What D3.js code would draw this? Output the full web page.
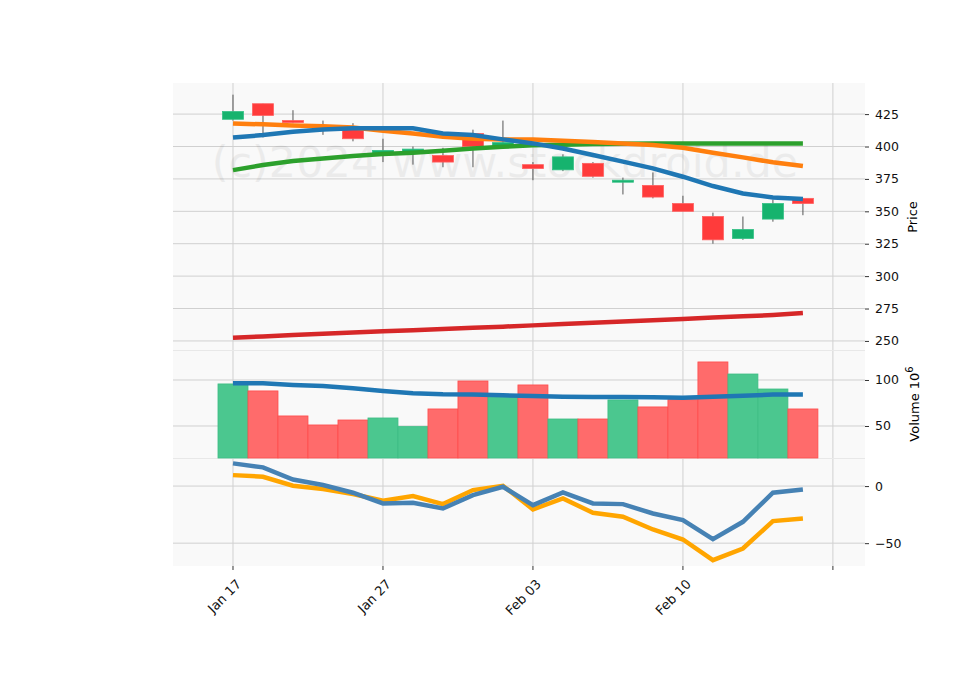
<!DOCTYPE html><html><head><meta charset="utf-8">
<script src="https://cdn.jsdelivr.net/npm/d3@7"></script>
<style>body{margin:0;background:#fff}</style></head><body><svg id="c" width="960" height="690"></svg>
<script>
const tickLabels=["Jan 17","Jan 27","Feb 03","Feb 10",""];
const tickIdx=[0,5,10,15,20];
const open=[421,433,420,416,413,395,396,393,410,400,386,382,387,373,370,356,346,329,344,360];
const high=[440,433,428,420,418,406,400,399,413,420,388,394,388,376,380,362,349,346,359,360];
const low=[420,407,418,409,404,388,386,384,384,400,374,381,376,363,360,350,325,328,342,347];
const close=[427,424,419,415,406,397,398,388,400,403,383,392,377,374,361,350,328,336,356,356];
const maBlue=[407,408.8,411.4,413.2,414,414,414,410.1,408.8,405.5,402.4,398.5,393.4,388.3,383.1,376.7,369.5,363.8,360.7,359.5];
const maOrange=[417.8,417.1,416.3,415.7,414.7,412.1,410.1,407.5,406,405.5,405.5,404.4,403.4,402.4,401.1,399,395.2,391.6,387.8,384.9];
const maGreen=[381.8,385.7,388.8,390.8,392.6,394.2,395.2,396.7,398.5,399.8,400.9,401.3,401.9,402.1,402.4,402.4,402.4,402.4,402.4,402.4];
const maRed=[252.5,253.5,254.5,255.5,256.5,257.4,258.3,259.2,260.1,261,262,263,264,265,266,267,268,269,270,271.5];
const volume=[95.7,88.1,60.9,51.1,56.5,58.7,49.3,68.5,98.9,83.7,94.6,57.6,57.6,78.3,70.7,78.6,119.6,106.5,90.2,68.5];
const volMA=[96.4,96.4,94.6,93.5,91,88,85.5,84.4,84.1,83.3,82.6,81.9,81.5,81.5,81.2,80.8,81.9,83,84.1,84.1];
const oscA=[19.9,16.4,5.8,0.9,-5.8,-15.2,-14.6,-19.6,-7.9,-0.6,-16.7,-5.5,-15.2,-15.8,-24,-29.8,-46.5,-31.3,-5.8,-2.9];
const oscB=[9.6,8.2,0.3,-2.6,-7,-12.9,-8.8,-15.8,-3.5,0.3,-20.4,-10.8,-23.4,-26.9,-38,-46.8,-64.9,-54.7,-30.7,-28.4];
const priceTicks=[250,275,300,325,350,375,400,425], volTicks=[50,100], oscTicks=[-50,0];

const svg=d3.select("#c");
const L=173,R=865;
const x=d3.scaleLinear().domain([-2,21.07]).range([L,R]);
const yP=d3.scaleLinear().domain([449,243]).range([83,350]);
const yV=d3.scaleLinear().domain([132.6,15.2]).range([350,458]);
const yO=d3.scaleLinear().domain([24.6,-70]).range([458,566]);
const idx=d3.range(20);
function panel(y,top,bot,ticks,fmt){
  svg.append("rect").attr("x",L).attr("y",top).attr("width",R-L).attr("height",bot-top).attr("fill","#f9f9f9");
  const g=svg.append("g").attr("fill","none");
  tickIdx.forEach(i=>g.append("line").attr("x1",x(i)).attr("x2",x(i)).attr("y1",top).attr("y2",bot).attr("stroke","#d0d0d0"));
  ticks.forEach(t=>g.append("line").attr("x1",L).attr("x2",R).attr("y1",y(t)).attr("y2",y(t)).attr("stroke","#d0d0d0"));
  const ax=svg.append("g").attr("transform",`translate(${R},0)`).call(d3.axisRight(y).tickValues(ticks).tickSize(4).tickPadding(6).tickFormat(fmt||d3.format("d")));
  ax.select(".domain").remove();
  ax.selectAll("line").attr("stroke","#333");
  ax.selectAll("text").attr("font-family","DejaVu Sans").attr("font-size",12.5).attr("fill","#111");
}
panel(yP,83,350,priceTicks);
panel(yV,350,458,volTicks);
panel(yO,458,566,oscTicks);
svg.append("line").attr("x1",L).attr("x2",R).attr("y1",350.5).attr("y2",350.5).attr("stroke","#e8e8e8");
svg.append("line").attr("x1",L).attr("x2",R).attr("y1",458.5).attr("y2",458.5).attr("stroke","#e8e8e8");
svg.append("text").attr("x",505).attr("y",177).attr("text-anchor","middle").attr("font-family","DejaVu Sans").attr("font-size",43).attr("fill","#000").attr("opacity",0.05).text("(c)2024 www.stockdroid.de");
const line=(y,arr)=>d3.line().x((d,i)=>x(i)).y(d=>y(d))(arr);
const up=i=>close[i]>=open[i];
const bw=x(0.7)-x(0);
idx.forEach(i=>{
  svg.append("line").attr("x1",x(i)).attr("x2",x(i)).attr("y1",yP(high[i])).attr("y2",yP(low[i])).attr("stroke","#555").attr("stroke-width",1);
  const t=Math.max(open[i],close[i]),b=Math.min(open[i],close[i]);
  svg.append("rect").attr("x",x(i)-bw/2).attr("y",yP(t)).attr("width",bw).attr("height",Math.max(2,yP(b)-yP(t)))
   .attr("fill",up(i)?"#16b36e":"#ff3b3b").attr("stroke",up(i)?"#33c085":"#ff6060").attr("stroke-width",0.8);
});
[[maRed,"#d62728"],[maGreen,"#2ca02c"],[maOrange,"#ff7f0e"],[maBlue,"#1f77b4"]].forEach(([a,c])=>
  svg.append("path").attr("d",line(yP,a)).attr("fill","none").attr("stroke",c).attr("stroke-width",4.5));
const vw=x(1)-x(0);
idx.forEach(i=>svg.append("rect").attr("x",x(i)-vw/2).attr("y",yV(volume[i])).attr("width",vw).attr("height",458-yV(volume[i]))
  .attr("fill",up(i)?"#4bc78f":"#ff6b6b").attr("stroke",up(i)?"#3dbd84":"#ff4c4c").attr("stroke-width",0.8));
svg.append("path").attr("d",line(yV,volMA)).attr("fill","none").attr("stroke","#1f77b4").attr("stroke-width",4.5);
svg.append("path").attr("d",line(yO,oscB)).attr("fill","none").attr("stroke","#ffa500").attr("stroke-width",4.5);
svg.append("path").attr("d",line(yO,oscA)).attr("fill","none").attr("stroke","#4682b4").attr("stroke-width",4.5);
const xa=svg.append("g");
tickIdx.forEach((t,k)=>{
  xa.append("line").attr("x1",x(t)).attr("x2",x(t)).attr("y1",566).attr("y2",570).attr("stroke","#333");
  xa.append("text").attr("transform",`translate(${x(t)+9},${585}) rotate(-45)`).attr("text-anchor","end").attr("font-family","DejaVu Sans").attr("font-size",13).attr("fill","#111").text(tickLabels[k]);
});
svg.append("text").attr("transform","translate(917,217) rotate(-90)").attr("text-anchor","middle").attr("font-family","DejaVu Sans").attr("font-size",13).text("Price");
const vt=svg.append("text").attr("transform","translate(919,404) rotate(-90)").attr("text-anchor","middle").attr("font-family","DejaVu Sans").attr("font-size",13);
vt.append("tspan").text("Volume  10");
vt.append("tspan").attr("dy",-6).attr("font-size",10).text("6");
</script></body></html>
